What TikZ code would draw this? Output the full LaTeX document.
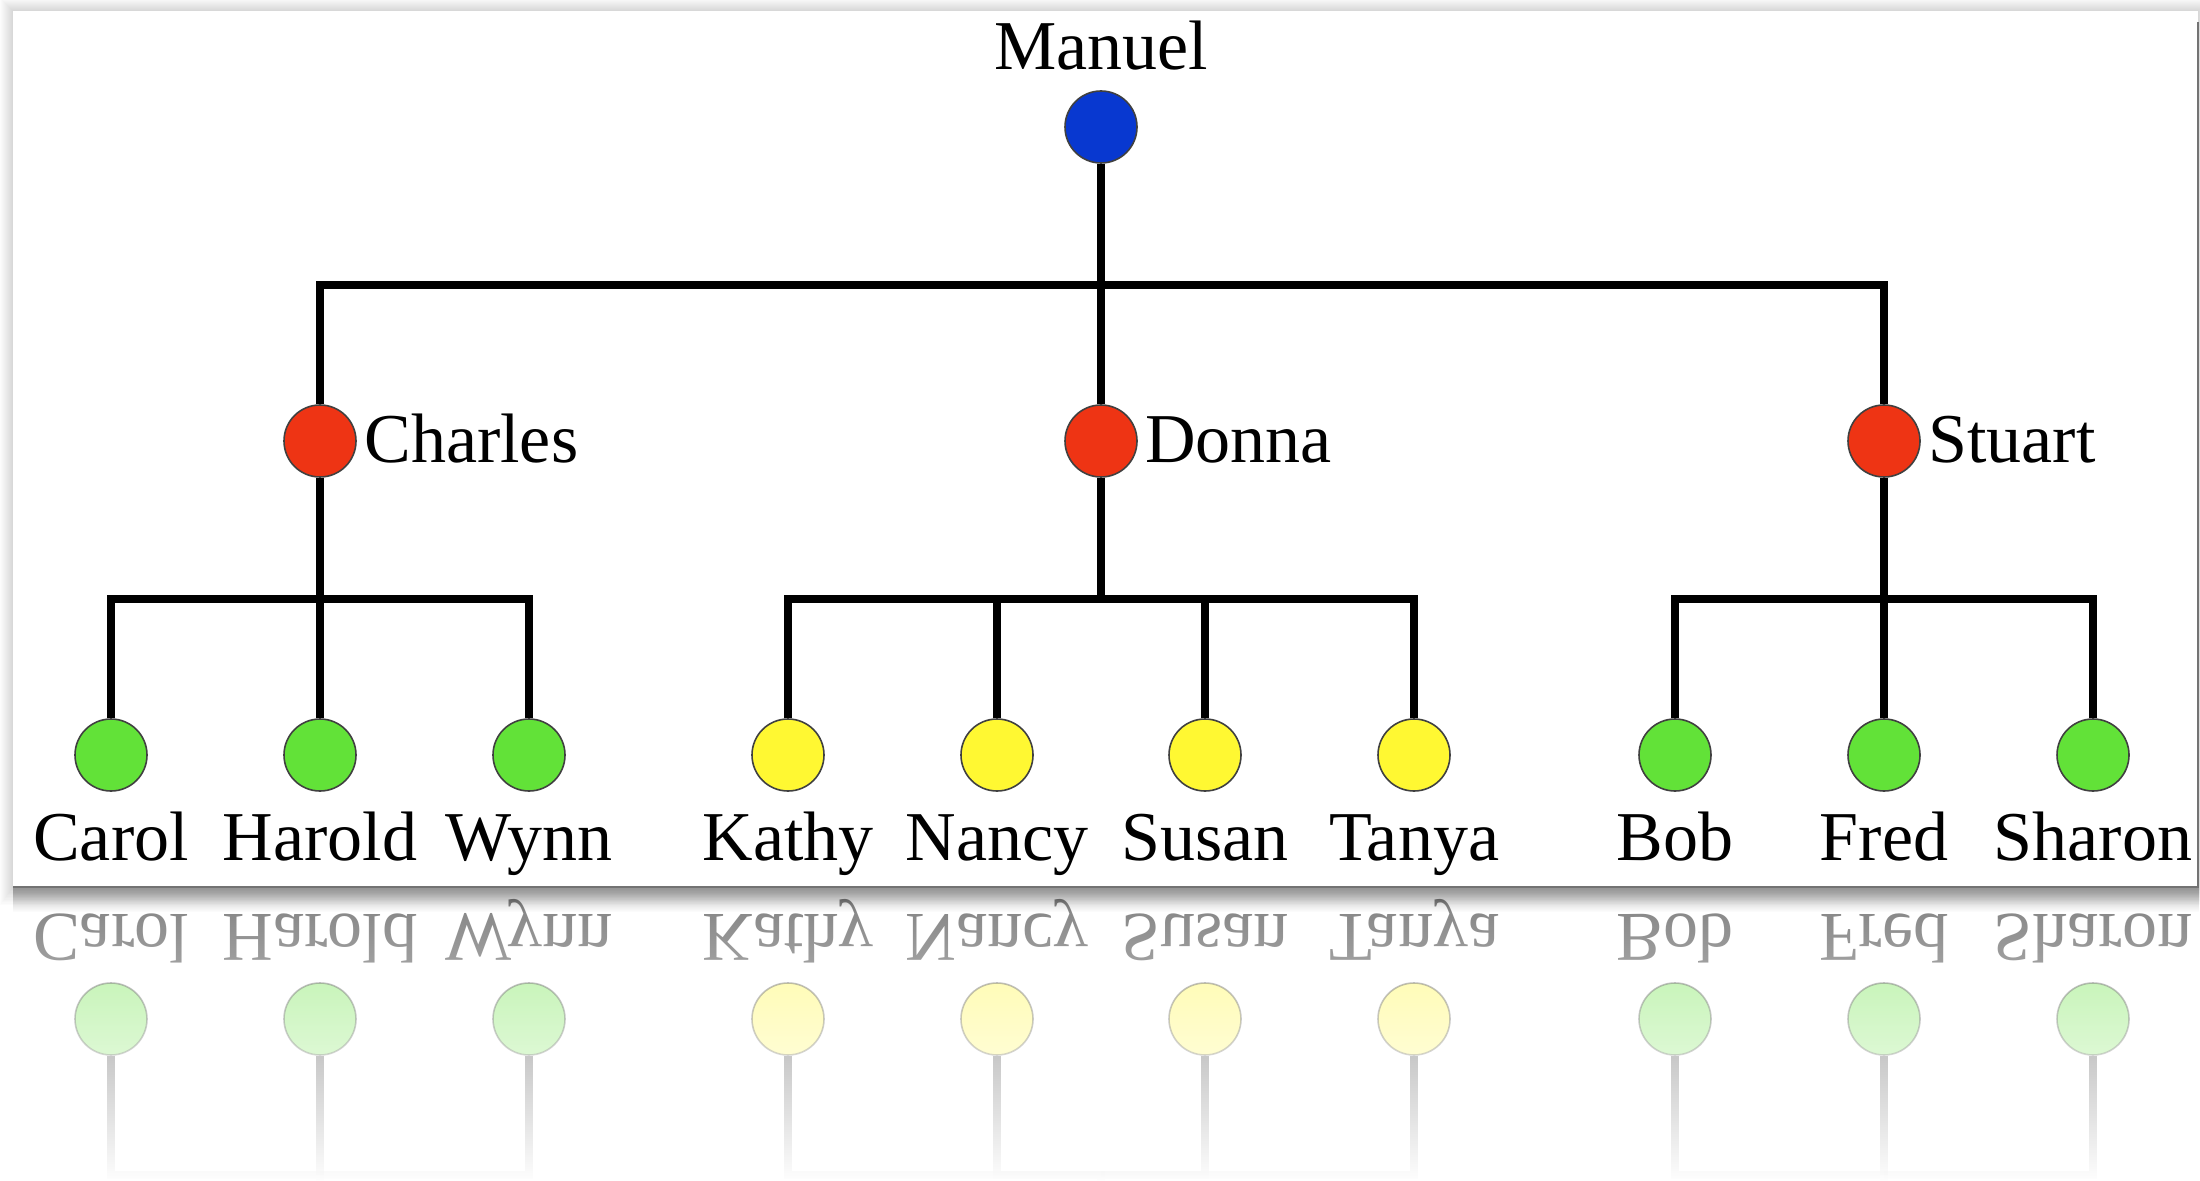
\documentclass[tikz,border=0pt]{standalone}
\usepackage{fontspec}
\setmainfont{Liberation Serif}
\usetikzlibrary{fadings}
\definecolor{cblue}{RGB}{8,56,208}
\definecolor{cred}{RGB}{238,52,20}
\definecolor{cgreen}{RGB}{98,226,56}
\definecolor{cyellow}{RGB}{255,248,50}
\newcommand\namefont{\fontsize{35}{42}\selectfont}
\tikzfading[name=reflfade, top color=transparent!100, bottom color=transparent!0]
\tikzfading[name=shadowfade, top color=transparent!0, bottom color=transparent!100]
\tikzset{
  person/.style={circle, draw=black!75, line width=0.8pt, minimum size=36pt, inner sep=0pt},
  conn/.style={line width=4.3pt, line join=miter},
  lbl/.style={font=\namefont, inner sep=0pt},
}
\newcommand\famtree{%
  % root
  \node[person, fill=cblue] (man) at (1101,127) {};
  \node[lbl, anchor=base] (manl) at (1101,70) {Manuel};
  % second level
  \node[person, fill=cred] (cha) at (320,441) {};
  \node[person, fill=cred] (don) at (1101,441) {};
  \node[person, fill=cred] (stu) at (1884,441) {};
  \node[lbl, anchor=base west] (chal) at (364,463) {Charles};
  \node[lbl, anchor=base west] (donl) at (1145,463) {Donna};
  \node[lbl, anchor=base west] (stul) at (1928,463) {Stuart};
  % leaves
  \node[person, fill=cgreen] (carol) at (111,755) {};
  \node[person, fill=cgreen] (harold) at (320,755) {};
  \node[person, fill=cgreen] (wynn) at (529,755) {};
  \node[person, fill=cyellow] (kathy) at (788,755) {};
  \node[person, fill=cyellow] (nancy) at (997,755) {};
  \node[person, fill=cyellow] (susan) at (1205,755) {};
  \node[person, fill=cyellow] (tanya) at (1414,755) {};
  \node[person, fill=cgreen] (bob) at (1675,755) {};
  \node[person, fill=cgreen] (fred) at (1884,755) {};
  \node[person, fill=cgreen] (sharon) at (2093,755) {};
  \node[lbl, anchor=base] (carl) at (111,860) {Carol};
  \node[lbl, anchor=base] (harl) at (320,860) {Harold};
  \node[lbl, anchor=base] (wynl) at (529,860) {Wynn};
  \node[lbl, anchor=base] (katl) at (788,860) {Kathy};
  \node[lbl, anchor=base] (nanl) at (997,860) {Nancy};
  \node[lbl, anchor=base] (susl) at (1205,860) {Susan};
  \node[lbl, anchor=base] (tanl) at (1414,860) {Tanya};
  \node[lbl, anchor=base] (bobl) at (1675,860) {Bob};
  \node[lbl, anchor=base] (frel) at (1884,860) {Fred};
  \node[lbl, anchor=base] (shal) at (2093,860) {Sharon};
  % junctions
  \coordinate (b1) at (1101,285);
  \coordinate (b2c) at (320,599);
  \coordinate (b2d) at (1101,599);
  \coordinate (b2s) at (1884,599);
  % connectors
  \draw[conn] (man) -- (b1) -| (cha);
  \draw[conn] (b1) -| (stu);
  \draw[conn] (b1) -- (don);
  \draw[conn] (cha) -- (b2c) -| (carol);
  \draw[conn] (b2c) -| (wynn);
  \draw[conn] (b2c) -- (harold);
  \draw[conn] (don) -- (b2d) -| (kathy);
  \draw[conn] (b2d) -| (tanya);
  \draw[conn] (b2d) -| (nancy);
  \draw[conn] (b2d) -| (susan);
  \draw[conn] (stu) -- (b2s) -| (bob);
  \draw[conn] (b2s) -| (sharon);
  \draw[conn] (b2s) -- (fred);
}
\begin{document}
\begin{tikzpicture}[x=0.5pt, y=-0.5pt]
  \useasboundingbox (0,0) rectangle (2200,1181);
  \fill[white] (0,0) rectangle (2200,1181);
  % reflection
  \begin{scope}[shift={(0,1774)}, yscale=-1, transform shape, opacity=0.5]
    \famtree
  \end{scope}
  \fill[white, path fading=reflfade, fit fading=true] (0,889) rectangle (2200,1181);
  % shadow
  \fill[black, opacity=0.32, path fading=shadowfade, fit fading=true] (13,887) rectangle (2200,912);
  \foreach \i in {1,...,13}{
    \fill[black, opacity=0.011] ({13-\i},{11-\i}) rectangle ({2198+\i},{887+1.4*\i});
  }
  % frame
  \fill[white] (13,11) rectangle (2198,887);
  \draw[black!55, line width=0.7pt] (13,887) -- (2198,887) -- (2198,22);
  % tree
  \famtree
\end{tikzpicture}
\end{document}
